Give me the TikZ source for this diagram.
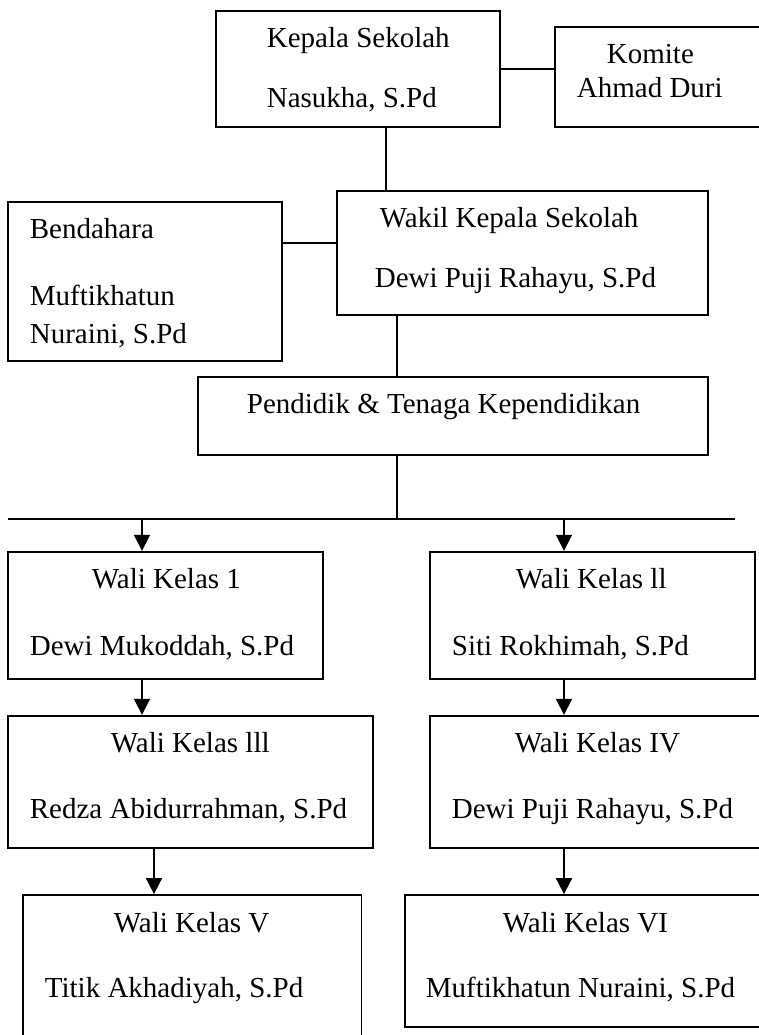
\documentclass[tikz,border=0pt]{standalone}
\usepackage{fontspec}
\setmainfont{Liberation Serif}
\usetikzlibrary{arrows.meta}

\begin{document}
\begin{tikzpicture}[x=0.5pt,y=-0.5pt,line width=0.9pt,
  box/.style={draw,rectangle,inner sep=0pt},
  lbl/.style={anchor=base west,inner sep=0pt,font=\fontsize{14.5}{17}\selectfont},
  arr/.style={-{Triangle[length=8pt,width=8pt]}}]
\useasboundingbox (0,0) rectangle (759,1035);
\clip (0,0) rectangle (759,1035);
% top: head, committee, deputy, treasurer
\node[box,minimum width=142pt,minimum height=58pt] (kepala) at (358,68.7) {};
\node[box,minimum width=103.5pt,minimum height=49.7pt] (komite) at (658.5,77) {};
\node[box,minimum width=185.5pt,minimum height=62.15pt] (wakil) at (522.5,252.85) {};
\node[box,minimum width=137pt,minimum height=79.5pt] (bendahara) at (145,281.5) {};
\node[box,minimum width=255pt,minimum height=39.15pt] (pendidik) at (453,415.85) {};
\node[lbl] (kepalaA) at (266,47) {Kepala Sekolah};
\node[lbl] (kepalaB) at (266,107) {Nasukha, S.Pd};
\node[lbl] (komiteA) at (606,63) {Komite};
\node[lbl] (komiteB) at (576,97) {Ahmad Duri};
\node[lbl] (wakilA) at (379,227) {Wakil Kepala Sekolah};
\node[lbl] (wakilB) at (374,287) {Dewi Puji Rahayu, S.Pd};
\node[lbl] (bendaharaA) at (29,238) {Bendahara};
\node[lbl] (bendaharaB) at (29,305) {Muftikhatun};
\node[lbl] (bendaharaC) at (29,343) {Nuraini, S.Pd};
\node[lbl] (pendidikA) at (246,413) {Pendidik \& Tenaga Kependidikan};
\draw (kepala.east) -- (kepala.east -| komite.west);
\draw (kepala.south -| 386,0) -- (wakil.north -| 386,0);
\draw (bendahara.east |- 0,243) -- (wakil.west |- 0,243);
\draw (wakil.south -| 397,0) -- (pendidik.north -| 397,0);
% bus line
\coordinate (bus) at (397,518.7);
\coordinate (busL) at (8,518.7);
\coordinate (busR) at (735,518.7);
\draw (pendidik.south -| bus) -- (bus);
\draw (busL) -- (busR);
% class teachers
\node[box,minimum width=157.5pt,minimum height=63.8pt] (wali1) at (165.5,615.5) {};
\node[box,minimum width=162.5pt,minimum height=63.8pt] (wali2) at (592.5,615.5) {};
\node[box,minimum width=182.5pt,minimum height=66pt] (wali3) at (190.5,781.7) {};
\node[box,minimum width=166pt,minimum height=66pt] (wali4) at (596,781.7) {};
\node[box,minimum width=169.25pt,minimum height=72.5pt] (wali5) at (192.25,967.5) {};
\node[box,minimum width=178.5pt,minimum height=66pt] (wali6) at (583.5,961) {};
\node[lbl] (wali1A) at (91,588) {Wali Kelas 1};
\node[lbl] (wali1B) at (29,655) {Dewi Mukoddah, S.Pd};
\node[lbl] (wali2A) at (515,588) {Wali Kelas ll};
\node[lbl] (wali2B) at (451,655) {Siti Rokhimah, S.Pd};
\node[lbl] (wali3A) at (110,752) {Wali Kelas lll};
\node[lbl] (wali3B) at (29,818) {Redza Abidurrahman, S.Pd};
\node[lbl] (wali4A) at (514,752) {Wali Kelas IV};
\node[lbl] (wali4B) at (451,818) {Dewi Puji Rahayu, S.Pd};
\node[lbl] (wali5A) at (113,932) {Wali Kelas V};
\node[lbl] (wali5B) at (44,997) {Titik Akhadiyah, S.Pd};
\node[lbl] (wali6A) at (502,932) {Wali Kelas VI};
\node[lbl] (wali6B) at (425,997) {Muftikhatun Nuraini, S.Pd};
\draw[arr] (bus -| 142,0) -- (wali1.north -| 142,0);
\draw[arr] (bus -| 564,0) -- (wali2.north -| 564,0);
\draw[arr] (wali1.south -| 142,0) -- (wali3.north -| 142,0);
\draw[arr] (wali2.south -| 564,0) -- (wali4.north -| 564,0);
\draw[arr] (wali3.south -| 154,0) -- (wali5.north -| 154,0);
\draw[arr] (wali4.south -| 564,0) -- (wali6.north -| 564,0);
\end{tikzpicture}
\end{document}
